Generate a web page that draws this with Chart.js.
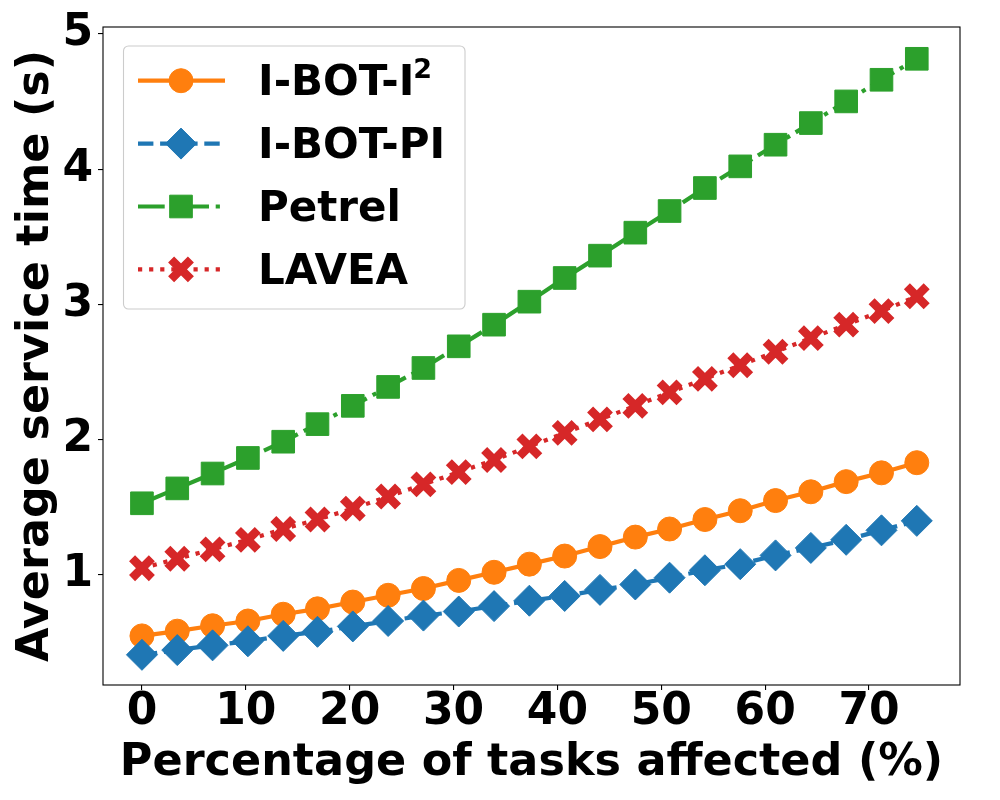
<!DOCTYPE html>
<html lang="en">
<head>
<meta charset="UTF-8">
<title>Average service time vs tasks affected</title>
<script src="https://cdn.jsdelivr.net/npm/chart.js"></script>
<style>
    body { margin: 0; background: #fff; }
    #wrap { width: 1000px; height: 800px; }
</style>
</head>
<body>
<div id="wrap"><canvas id="chart" width="1000" height="800"></canvas></div>
<script>
// data
const percentages = [0, 3.4, 6.8, 10.2, 13.6, 16.9, 20.3, 23.7, 27.1, 30.5, 33.9, 37.3,
                     40.7, 44.1, 47.5, 50.8, 54.2, 57.6, 61.0, 64.4, 67.8, 71.2, 74.6];
const ibotI2  = [0.55, 0.585, 0.625, 0.66, 0.71, 0.75, 0.80, 0.85, 0.90, 0.96, 1.02, 1.08,
                 1.14, 1.21, 1.28, 1.34, 1.41, 1.475, 1.55, 1.615, 1.69, 1.755, 1.83];
const ibotPI  = [0.41, 0.445, 0.48, 0.51, 0.55, 0.58, 0.62, 0.66, 0.70, 0.73, 0.77, 0.81,
                 0.845, 0.89, 0.93, 0.98, 1.035, 1.08, 1.145, 1.20, 1.26, 1.33, 1.40];
const petrel  = [1.53, 1.64, 1.75, 1.865, 1.985, 2.115, 2.25, 2.39, 2.53, 2.69, 2.85, 3.02,
                 3.195, 3.36, 3.53, 3.69, 3.86, 4.02, 4.18, 4.34, 4.50, 4.66, 4.815];
const lavea   = [1.05, 1.12, 1.19, 1.26, 1.34, 1.41, 1.49, 1.58, 1.67, 1.76, 1.85, 1.95,
                 2.05, 2.15, 2.25, 2.35, 2.45, 2.55, 2.65, 2.75, 2.85, 2.95, 3.06];
const seriesNames = ['I-BOT-I²', 'I-BOT-PI', 'Petrel', 'LAVEA'];
const xTicks = [0, 10, 20, 30, 40, 50, 60, 70];
const yTicks = [1, 2, 3, 4, 5];

const FONT = { family: 'DejaVu Sans', size: 44, weight: 'bold', lineHeight: 1 };
const TITLE_FONT = { family: 'DejaVu Sans', size: 44.5, weight: 'bold', lineHeight: 1 };
const LW = 4.2;

// matplotlib-like look per series
const looks = [
    { color: '#ff7f0e', dash: [],                     point: 'circle',   r: 12,   bw: 1 },
    { color: '#1f77b4', dash: [15.4, 6.7],            point: 'rectRot',  r: 15.5, bw: 1 },
    { color: '#2ca02c', dash: [26.7, 6.7, 4.2, 6.7],  point: 'rect',     r: 16,   bw: 1 },
    { color: '#d62728', dash: [4.2, 6.9],             point: 'crossRot', r: 14,   bw: 8.5 },
];
const series = [ibotI2, ibotPI, petrel, lavea];

const datasets = series.map((vals, i) => ({
    label: seriesNames[i],
    data: vals.map((v, k) => ({ x: percentages[k], y: v })),
    borderColor: looks[i].color,
    backgroundColor: looks[i].color,
    borderWidth: LW,
    borderDash: looks[i].dash,
    pointStyle: looks[i].point,
    pointRadius: looks[i].r,
    pointBorderWidth: looks[i].bw,
    pointBackgroundColor: looks[i].color,
    pointBorderColor: looks[i].color,
    tension: 0,
    order: 4 - i,   // later series painted on top, like matplotlib
}));

// box around the plot, and the legend panel
const framePlugin = {
    id: 'frame',
    afterDraw(chart) {
        const { ctx, chartArea: a } = chart;
        ctx.save();
        ctx.strokeStyle = '#000';
        ctx.lineWidth = 1.1;
        ctx.strokeRect(a.left, a.top, a.right - a.left, a.bottom - a.top);
        ctx.restore();
    }
};

const legendPlugin = {
    id: 'mplLegend',
    afterDraw(chart) {
        const ctx = chart.ctx;
        ctx.save();
        ctx.beginPath();
        ctx.roundRect(123.5, 46, 341.5, 263, 5);
        ctx.fillStyle = 'rgba(255,255,255,0.8)';
        ctx.fill();
        ctx.strokeStyle = '#cccccc';
        ctx.lineWidth = 1.1;
        ctx.stroke();

        chart.data.datasets.forEach((ds, i) => {
            const y = 80.7 + i * 62.9;
            const look = looks[i];
            // line sample
            ctx.beginPath();
            ctx.setLineDash(look.dash);
            ctx.lineDashOffset = 0;
            ctx.strokeStyle = look.color;
            ctx.lineWidth = LW;
            ctx.moveTo(138, y);
            ctx.lineTo(225, y);
            ctx.stroke();
            // marker
            ctx.setLineDash([]);
            ctx.fillStyle = look.color;
            ctx.lineWidth = look.bw;
            Chart.helpers.drawPoint(ctx, {
                pointStyle: look.point, radius: look.r, rotation: 0, borderWidth: look.bw
            }, 181, y);
            // label text
            ctx.fillStyle = '#000';
            ctx.textAlign = 'left';
            ctx.textBaseline = 'alphabetic';
            ctx.font = 'bold 42px "DejaVu Sans"';
            let txt = ds.label;
            const sup = txt.endsWith('²');
            if (sup) txt = txt.slice(0, -1);
            ctx.fillText(txt, 258, y + 14.5);
            if (sup) {
                const w = ctx.measureText(txt).width;
                ctx.font = 'bold 27px "DejaVu Sans"';
                ctx.fillText('2', 258 + w - 1, y - 2.4);
            }
        });
        ctx.restore();
    }
};

new Chart(document.getElementById('chart'), {
    type: 'line',
    data: { datasets },
    options: {
        responsive: false,
        animation: false,
        layout: { padding: { top: 25, right: 40, left: 0, bottom: 0 } },
        plugins: {
            legend: { display: false },
            tooltip: { enabled: false },
        },
        scales: {
            x: {
                type: 'linear',
                min: -3.75,
                max: 78.76,
                afterBuildTicks: s => { s.ticks = xTicks.map(v => ({ value: v })); },
                afterFit: s => { s.height = 115; },
                ticks: { font: FONT, color: '#000', padding: 1, maxRotation: 0, autoSkip: false },
                grid: { drawOnChartArea: false, tickLength: 5, color: '#000', lineWidth: 1.1 },
                border: { display: false },
                title: {
                    display: true,
                    text: 'Percentage of tasks affected (%)',
                    font: TITLE_FONT, color: '#000',
                    padding: { top: 0, bottom: 14 },
                },
            },
            y: {
                min: 0.187,
                max: 5.05,
                afterBuildTicks: s => { s.ticks = yTicks.map(v => ({ value: v })); },
                afterFit: s => { s.width = 103; },
                ticks: { font: FONT, color: '#000', padding: 5 },
                grid: { drawOnChartArea: false, tickLength: 5, color: '#000', lineWidth: 1.1 },
                border: { display: false },
                title: {
                    display: true,
                    text: 'Average service time (s)',
                    font: TITLE_FONT, color: '#000',
                    padding: { top: 14, bottom: 0 },
                },
            },
        },
    },
    plugins: [framePlugin, legendPlugin],
});
</script>
</body>
</html>
